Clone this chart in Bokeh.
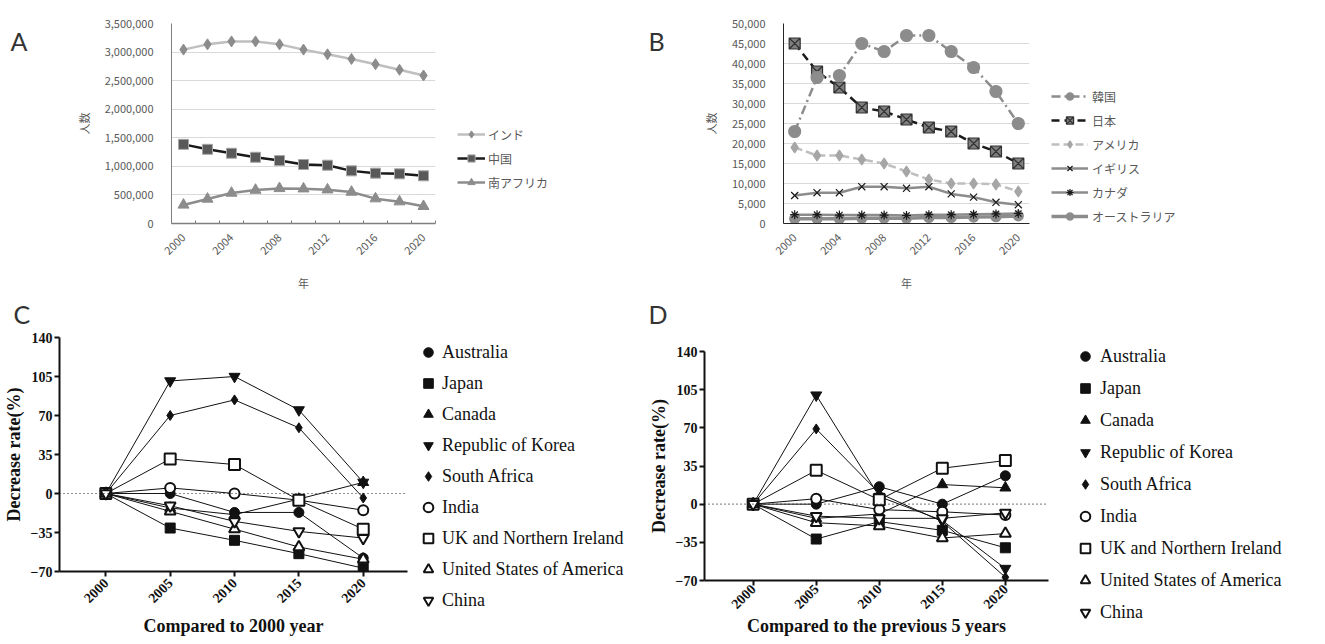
import math
from bokeh.plotting import figure
from bokeh.layouts import row, column
from bokeh.models import (Range1d, FixedTicker, NumeralTickFormatter, Legend, LegendItem,
                          Span, Label)
from bokeh.embed import file_html
from bokeh.resources import INLINE

# ---------------- data ----------------
years_ab = [2000, 2002, 2004, 2006, 2008, 2010, 2012, 2014, 2016, 2018, 2020]
label_years_ab = [2000, 2004, 2008, 2012, 2016, 2020]

a_india = [3043000, 3135000, 3187000, 3187000, 3135000, 3043000, 2961000, 2880000, 2788000, 2690000, 2590000]
a_china = [1385000, 1298000, 1229000, 1159000, 1101000, 1032000, 1020000, 921000, 881000, 869000, 834000]
a_south_africa = [325000, 429000, 533000, 585000, 614000, 608000, 591000, 551000, 435000, 382000, 301000]
a_names = ["インド", "中国", "南アフリカ"]

b_korea = [23000, 36500, 37000, 45000, 43000, 47000, 47000, 43000, 39000, 33000, 25000]
b_japan = [45000, 38000, 34000, 29000, 28000, 26000, 24000, 23000, 20000, 18000, 15000]
b_usa = [19000, 17000, 17000, 16000, 15000, 13000, 11000, 10000, 10000, 9800, 8000]
b_uk = [7000, 7700, 7700, 9200, 9200, 8800, 9200, 7400, 6600, 5300, 4700]
b_canada = [2200, 2200, 2100, 2100, 2100, 2000, 2200, 2200, 2300, 2400, 2500]
b_australia = [1200, 1200, 1200, 1300, 1300, 1300, 1500, 1500, 1600, 1700, 1900]
b_names = ["韓国", "日本", "アメリカ", "イギリス", "カナダ", "オーストラリア"]

years_cd = [2000, 2005, 2010, 2015, 2020]
countries = ["Australia", "Japan", "Canada", "Republic of Korea", "South Africa", "India",
             "UK and Northern Ireland", "United States of America", "China"]
c_australia = [0, 0, -17, -17, -58]
c_japan = [0, -31, -42, -54, -67]
c_canada = [0, -13, -19, -5, 10]
c_korea = [0, 101, 105, 75, 10]
c_south_africa = [0, 70, 84, 59, -4]
c_india = [0, 5, 0, -6, -15]
c_uk = [0, 31, 26, -6, -32]
c_usa = [0, -16, -32, -48, -59]
c_china = [0, -11, -25, -34, -40]

d_australia = [0, 0, 16, 0, 26]
d_japan = [0, -32, -16, -24, -40]
d_canada = [0, -13, -9, 18, 15]
d_korea = [0, 100, 7, -15, -59]
d_south_africa = [0, 69, 10, -16, -67]
d_india = [0, 5, -5, -7, -10]
d_uk = [0, 31, 4, 33, 40]
d_usa = [0, -17, -20, -31, -27]
d_china = [0, -11, -13, -13, -8]

cd_ticks = [-70, -35, 0, 35, 70, 105, 140]

JP = "Noto Sans CJK JP"
SERIF = "Liberation Serif"
GRAY_TXT = "#595959"


def blank(width, height):
    f = figure(width=width, height=height, output_backend="svg", toolbar_location=None,
               x_axis_location=None, y_axis_location=None, min_border=0,
               x_range=Range1d(0, 1), y_range=Range1d(0, 1))
    f.outline_line_color = None
    f.grid.visible = False
    return f


def add_letter(f, text, x, y):
    f.add_layout(Label(x=x, y=y, x_units="screen", y_units="screen", text=text,
                       text_font="Lato", text_font_size="25px", text_color="#333333",
                       text_baseline="alphabetic"))
    return f


def style_excel(p, yticks):
    p.outline_line_color = None
    p.xgrid.grid_line_color = None
    p.ygrid.grid_line_color = "#d9d9d9"
    p.ygrid.grid_line_width = 1
    for ax in (p.xaxis[0], p.yaxis[0]):
        ax.major_label_text_font = JP
        ax.major_label_text_font_size = "11px"
        ax.major_label_text_color = GRAY_TXT
        ax.axis_label_text_font = JP
        ax.axis_label_text_font_size = "11px"
        ax.axis_label_text_color = GRAY_TXT
        ax.axis_label_text_font_style = "normal"
    y = p.yaxis[0]
    y.ticker = FixedTicker(ticks=yticks)
    y.formatter = NumeralTickFormatter(format="0,0")
    y.major_tick_line_color = None
    y.minor_tick_line_color = None
    y.axis_line_color = "#7f7f7f"
    y.major_label_standoff = 12
    y.axis_label = "人数"
    y.axis_label_standoff = 10
    x = p.xaxis[0]
    x.ticker = FixedTicker(ticks=label_years_ab,
                           minor_ticks=[v - 1 for v in years_ab] + [years_ab[-1] + 1])
    x.major_tick_line_color = None
    x.major_label_orientation = math.pi / 4
    x.major_label_standoff = 6
    x.axis_label = "年"
    x.axis_label_standoff = 14


a_series = [(a_india, "#bfbfbf", "diamond", "#8c8c8c", "#8c8c8c", 11),
            (a_china, "#1a1a1a", "square", "#595959", "#a6a6a6", 10),
            (a_south_africa, "#8c8c8c", "triangle", "#8c8c8c", "#8c8c8c", 11)]


def draw_a(f):
    items = []
    for (vals, lc, mk, fc, mlc, sz), name in zip(a_series, a_names):
        l = f.line(years_ab, vals, line_color=lc, line_width=2.5)
        s = f.scatter(years_ab, vals, marker=mk, size=sz, fill_color=fc, line_color=mlc, line_width=1)
        items.append(LegendItem(label=name, renderers=[l, s]))
    return items


b_series = [
    (b_australia, "#8c8c8c", 3.5, "solid", "circle", "#8c8c8c", "#8c8c8c", 10),
    (b_canada, "#8c8c8c", 2.5, "solid", "asterisk", None, "#1a1a1a", 9),
    (b_uk, "#8c8c8c", 2.5, "solid", "x", None, "#1a1a1a", 10),
    (b_usa, "#bfbfbf", 2.5, "8 4", "diamond", "#a6a6a6", "#a6a6a6", 11),
    (b_japan, "#1a1a1a", 2.5, "8 5", "square_x", "#7f7f7f", "#333333", 11),
    (b_korea, "#8c8c8c", 2.5, "9 4 2 4", "circle", "#8c8c8c", "#8c8c8c", 12),
]


def draw_b(f):
    rend = {}
    for (vals, lc, lw, dash, mk, fc, mlc, sz), name in zip(b_series, b_names[::-1]):
        l = f.line(years_ab, vals, line_color=lc, line_width=lw, line_dash=dash)
        s = f.scatter(years_ab, vals, marker=mk, size=sz, fill_color=fc, line_color=mlc,
                      line_width=1.2)
        rend[name] = [l, s]
    return [LegendItem(label=n, renderers=rend[n]) for n in b_names]


# ---------------- Panel A ----------------
pA = figure(width=405, height=300, output_backend="svg", toolbar_location=None,
            x_range=Range1d(years_ab[0] - 1, years_ab[-1] + 1), y_range=Range1d(0, 3500000),
            min_border_left=131, min_border_right=10, min_border_top=23, min_border_bottom=77)
style_excel(pA, list(range(0, 3500001, 500000)))
pA.xaxis[0].axis_line_color = "#7f7f7f"
pA.xaxis[0].axis_line_width = 1.5
pA.xaxis[0].minor_tick_line_color = "#7f7f7f"
pA.xaxis[0].minor_tick_in = 3
pA.xaxis[0].minor_tick_out = 0
draw_a(pA)

# blank figures in the top row share the plots' frame (y 23..223 of the row)
legA_fig = blank(195, 300)
legA = Legend(items=draw_a(legA_fig), location=(12, 32), glyph_width=28, glyph_height=18,
              label_height=18, spacing=6, label_standoff=3, padding=0, margin=0,
              border_line_color=None, background_fill_alpha=0,
              label_text_font=JP, label_text_font_size="12px", label_text_color=GRAY_TXT)
legA_fig.add_layout(legA)

# ---------------- Panel B ----------------
pB = figure(width=349, height=300, output_backend="svg", toolbar_location=None,
            x_range=Range1d(years_ab[0] - 1, years_ab[-1] + 1), y_range=Range1d(0, 50000),
            min_border_left=93, min_border_right=10, min_border_top=23, min_border_bottom=77)
style_excel(pB, list(range(0, 50001, 5000)))
pB.xaxis[0].axis_line_color = "#262626"
pB.yaxis[0].axis_line_color = "#262626"
pB.xaxis[0].minor_tick_line_color = None
draw_b(pB)

legB_fig = blank(286, 300)
legB = Legend(items=draw_b(legB_fig), location=(12, -2), glyph_width=37, glyph_height=18,
              label_height=18, spacing=6, label_standoff=4, padding=0, margin=0,
              border_line_color=None, background_fill_alpha=0,
              label_text_font=JP, label_text_font_size="12px", label_text_color=GRAY_TXT)
legB_fig.add_layout(legB)

# ---------------- Panels C and D ----------------
markers = ["circle", "square", "triangle", "inverted_triangle", "diamond",
           "circle", "square", "triangle", "inverted_triangle"]
filled = [True, True, True, True, True, False, False, False, False]
sizes = [10, 10, 11, 11, 10, 10, 11, 11, 11]


def style_serif(p, xlabel, label_standoff, axis_standoff):
    p.outline_line_color = None
    p.grid.grid_line_color = None
    for ax in (p.xaxis[0], p.yaxis[0]):
        ax.axis_line_width = 2
        ax.axis_line_color = "#111111"
        ax.major_tick_line_width = 2
        ax.major_tick_line_color = "#111111"
        ax.major_tick_out = 5
        ax.major_tick_in = 0
        ax.minor_tick_line_color = None
        ax.major_label_text_font = SERIF
        ax.major_label_text_font_style = "bold"
        ax.major_label_text_font_size = "14px"
        ax.major_label_text_color = "#111111"
        ax.axis_label_text_font = SERIF
        ax.axis_label_text_font_style = "bold"
        ax.axis_label_text_font_size = "18px"
        ax.axis_label_text_color = "#111111"
    p.yaxis[0].ticker = FixedTicker(ticks=cd_ticks)
    p.yaxis[0].major_label_standoff = 2
    p.yaxis[0].axis_label = "Decrease rate(%)"
    p.yaxis[0].axis_label_standoff = 4
    p.xaxis[0].ticker = FixedTicker(ticks=years_cd)
    p.xaxis[0].major_label_orientation = math.pi / 4
    p.xaxis[0].major_label_standoff = label_standoff
    p.xaxis[0].axis_label = xlabel
    p.xaxis[0].axis_label_standoff = axis_standoff
    p.add_layout(Span(location=0, dimension="width", line_color="#222222",
                      line_width=1.2, line_dash="1 3"))


def draw_lines(p, data):
    for vals in data:
        p.line(years_cd, vals, line_color="#111111", line_width=1)


def draw_markers(p, data):
    items = []
    for vals, name, mk, fl, sz in zip(data, countries, markers, filled, sizes):
        s = p.scatter(years_cd, vals, marker=mk, size=sz,
                      fill_color="#111111" if fl else "white",
                      line_color="#111111", line_width=1 if fl else 2)
        items.append(LegendItem(label=name, renderers=[s]))
    return items


def serif_legend(items, loc, spacing, standoff):
    return Legend(items=items, location=loc, glyph_width=24, glyph_height=24,
                  label_height=24, spacing=spacing, label_standoff=standoff, padding=0, margin=0,
                  border_line_color=None, background_fill_alpha=0,
                  label_text_font=SERIF, label_text_font_size="18px",
                  label_text_color="#111111")


c_data = [c_australia, c_japan, c_canada, c_korea, c_south_africa, c_india, c_uk, c_usa, c_china]
d_data = [d_australia, d_japan, d_canada, d_korea, d_south_africa, d_india, d_uk, d_usa, d_china]

pC = figure(width=412, height=316, output_backend="svg", toolbar_location=None,
            x_range=Range1d(1996.4, 2023.44), y_range=Range1d(cd_ticks[0], cd_ticks[-1]),
            min_border_left=51, min_border_right=5, min_border_top=9, min_border_bottom=73)
style_serif(pC, "Compared to 2000 year", 4, 6)
draw_lines(pC, c_data)
draw_markers(pC, c_data)

legC_fig = blank(233, 316)
legC_fig.add_layout(serif_legend(draw_markers(legC_fig, c_data), (4, 32), 7, 2))

pD = figure(width=407, height=316, output_backend="svg", toolbar_location=None,
            x_range=Range1d(1996.14, 2023.42), y_range=Range1d(cd_ticks[0], cd_ticks[-1]),
            min_border_left=52, min_border_right=4, min_border_top=23, min_border_bottom=64)
style_serif(pD, "Compared to the previous 5 years", 1, 0)
draw_lines(pD, d_data)
draw_markers(pD, d_data)

legD_fig = blank(273, 316)
legD_fig.add_layout(serif_legend(draw_markers(legD_fig, d_data), (21, 20), 8, 3))

letter_a = add_letter(blank(40, 300), "A", 10, 183)
letter_b = add_letter(blank(50, 300), "B", 8, 183)
strip_cd = blank(1325, 28)
add_letter(strip_cd, "C", 13, 15)
add_letter(strip_cd, "D", 648, 15)

top = row(letter_a, pA, legA_fig, letter_b, pB, legB_fig)
bottom = column(strip_cd, row(column(pC), legC_fig, column(pD), legD_fig))
layout = column(top, bottom)
open("out.html", "w").write(file_html(layout, INLINE))
